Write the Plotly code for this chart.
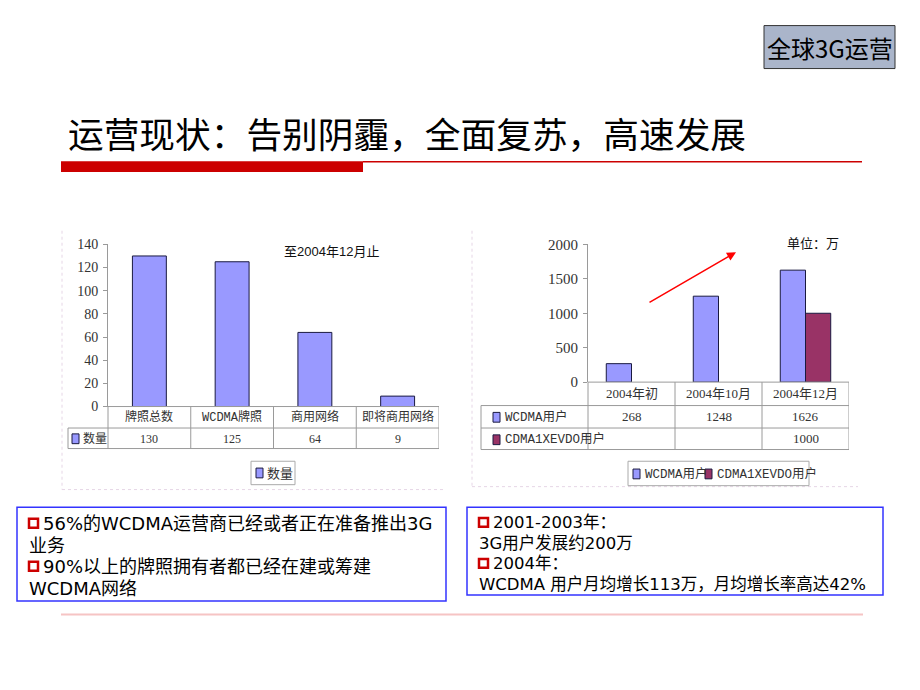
import plotly.graph_objects as go

# ---------------- data ----------------
left_categories = ["牌照总数", "WCDMA牌照", "商用网络", "即将商用网络"]
left_values = [130, 125, 64, 9]
left_series = "数量"

right_categories = ["2004年初", "2004年10月", "2004年12月"]
wcdma_users = [268, 1248, 1626]
evdo_users = [None, None, 1000]
right_series = ["WCDMA用户", "CDMA1XEVDO用户"]

title_text = "运营现状：告别阴霾，全面复苏，高速发展"
badge_text = "全球3G运营"
left_note = "至2004年12月止"
right_note = "单位：万"
left_box_lines = [(True, "56%的WCDMA运营商已经或者正在准备推出3G"), (False, "业务"),
                  (True, "90%以上的牌照拥有者都已经在建或筹建"), (False, "WCDMA网络")]
right_box_lines = [(True, "2001-2003年："), (False, "3G用户发展约200万"),
                   (True, "2004年："), (False, "WCDMA 用户月均增长113万，月均增长率高达42%")]

# ---------------- helpers ----------------
W, H = 920, 690
def px(x): return x / W
def py(y): return 1 - y / H

BLUE = "#9999FF"
PLUM = "#993366"
OUT = "#1a1a40"
GRID = "#9a9a9a"
SERIF = "Liberation Serif, Noto Sans CJK SC"
NARROW = "Liberation Sans Narrow, Liberation Mono, Noto Sans CJK SC"
SANS = "DejaVu Sans, Noto Sans CJK SC"

fig = go.Figure()
fig.add_trace(go.Bar(x=left_categories, y=left_values, name=left_series,
                     marker=dict(color=BLUE, line=dict(color=OUT, width=1)),
                     xaxis="x", yaxis="y", showlegend=False))
fig.add_trace(go.Bar(x=right_categories, y=wcdma_users, name=right_series[0],
                     marker=dict(color=BLUE, line=dict(color=OUT, width=1)),
                     xaxis="x2", yaxis="y2", showlegend=False))
fig.add_trace(go.Bar(x=right_categories, y=evdo_users, name=right_series[1],
                     marker=dict(color=PLUM, line=dict(color=OUT, width=1)),
                     xaxis="x2", yaxis="y2", showlegend=False))

shapes = []
ann = []

def hline(x0, x1, y, color=GRID, width=1, dash="solid", xref="paper"):
    shapes.append(dict(type="line", xref=xref, yref="paper",
                       x0=x0, x1=x1, y0=py(y), y1=py(y),
                       line=dict(color=color, width=width, dash=dash)))

def vline(x, y0, y1, color=GRID, width=1, xref="paper", dash="solid"):
    shapes.append(dict(type="line", xref=xref, yref="paper",
                       x0=x, x1=x, y0=py(y0), y1=py(y1),
                       line=dict(color=color, width=width, dash=dash)))

def rect(x0, y0, x1, y1, fill=None, color=GRID, width=1):
    shapes.append(dict(type="rect", xref="paper", yref="paper",
                       x0=px(x0), x1=px(x1), y0=py(y1), y1=py(y0),
                       fillcolor=fill if fill else "rgba(0,0,0,0)",
                       line=dict(color=color, width=width)))

def text(x, y, s, size=14, color="#333", family=SERIF, xanchor="center", xref="paper"):
    ann.append(dict(x=x, y=py(y), xref=xref, yref="paper", text=s, showarrow=False,
                    xanchor=xanchor, yanchor="middle",
                    font=dict(size=size, color=color, family=family)))

# ---------- title & decorations ----------
text(px(66), 127, title_text, size=35.7, color="#000", family="Noto Sans CJK SC", xanchor="left")
rect(61, 157, 363, 168, fill="#CC0000", color="#CC0000", width=0)
hline(px(363), px(862), 157.5, color="#CC0000", width=1.5)

rect(764, 18, 895, 62, fill="#AAB5CA", color="#333", width=1)
text(px(829.5), 40, badge_text, size=24, color="#000", family="Noto Sans CJK SC")

# chart frames (faint dotted)
vline(px(62), 228, 493, color="#E6D6E6", dash="dot")
hline(px(62), px(446), 493, color="#E6D6E6", dash="dot")
vline(px(472), 228, 490, color="#E6D6E6", dash="dot")
hline(px(472), px(858), 490, color="#E6D6E6", dash="dot")

# ---------- left table ----------
nL = len(left_categories)
hline(px(108), px(439), 408)
hline(px(68), px(439), 430)
hline(px(68), px(439), 451)
vline(px(68), 430, 451)
vline(px(108), 408, 451)
for i in range(nL):
    vline(i + 0.5, 408, 451, xref="x")
    text(i, 419, left_categories[i], size=12, xref="x", family=NARROW)
    text(i, 441, str(left_values[i]), size=12, xref="x")
rect(72, 436, 79, 446, fill=BLUE, color=OUT)
text(px(81), 441, left_series, size=12, xanchor="left")
text(px(331), 249, left_note, size=13, color="#111", family="Liberation Sans, Noto Sans CJK SC")

# left legend
rect(251, 464, 295, 488, color="#aaa")
rect(256, 471, 263, 481, fill=BLUE, color=OUT)
text(px(265), 476.5, left_series, size=13, xanchor="left")

# ---------- right table ----------
nR = len(right_categories)
hline(px(588), px(849), 383)
hline(px(481), px(849), 407)
hline(px(481), px(849), 430)
hline(px(481), px(849), 452)
vline(px(481), 407, 452)
vline(px(588), 383, 452)
for i in range(nR):
    vline(i + 0.5, 383, 452, xref="x2")
    text(i, 395, right_categories[i], size=13, xref="x2")
    text(i, 418.5, "" if wcdma_users[i] is None else str(wcdma_users[i]), size=13, xref="x2")
    text(i, 441, "" if evdo_users[i] is None else str(evdo_users[i]), size=13, xref="x2")
rect(493, 414, 500, 424, fill=BLUE, color=OUT)
text(px(503), 418.5, right_series[0], size=12.5, xanchor="left", family=NARROW)
rect(493, 437, 500, 447, fill=PLUM, color=OUT)
text(px(503), 441, right_series[1], size=12.5, xanchor="left", family=NARROW)
text(px(813), 241, right_note, size=13, color="#111")

# right legend
rect(628, 464, 809, 489, color="#aaa")
rect(633, 472, 640, 482, fill=BLUE, color=OUT)
text(px(643), 477, right_series[0], size=12.5, xanchor="left", family=NARROW)
rect(705, 472, 712, 482, fill=PLUM, color=OUT)
text(px(715), 477, right_series[1], size=12.5, xanchor="left", family=NARROW)

# red arrow (tail offset in pixels)
ann.append(dict(x=px(736), y=py(250), ax=648 - 736, ay=301 - 250,
                xref="paper", yref="paper",
                text="", showarrow=True, arrowhead=2, arrowsize=1.2,
                arrowwidth=1.5, arrowcolor="#FF0000"))

# ---------- bottom boxes ----------
rect(17, 511, 446, 607, color="#3333FF", width=1.5)
rect(467, 511, 883, 601, color="#3333FF", width=1.5)
hline(px(61), px(863), 621, color="#F6C4C4", width=2)

def box_lines(x0, ys, lines, size):
    for y, (bullet, s) in zip(ys, lines):
        if bullet:
            rect(x0 + 2, y - 5, x0 + 11, y + 4, color="#CC0000", width=2.5)
            text(px(x0 + 14), y, s, size=size, color="#000", family=SANS, xanchor="left")
        else:
            text(px(x0), y, s, size=size, color="#000", family=SANS, xanchor="left")

box_lines(27, [528, 550, 572, 594], left_box_lines, 18)
box_lines(477, [527, 548, 569, 590], right_box_lines, 16.5)

fig.update_layout(
    width=W, height=H, margin=dict(l=0, r=0, t=0, b=0),
    paper_bgcolor="white", plot_bgcolor="rgba(0,0,0,0)",
    barmode="group", showlegend=False,
    xaxis=dict(domain=[px(108), px(439)], range=[-0.5, nL - 0.5], showticklabels=False,
               showgrid=False, zeroline=False, showline=False, ticks=""),
    yaxis=dict(domain=[py(408), py(242)], range=[0, 140], dtick=20, showgrid=False,
               zeroline=False, showline=True, linecolor=GRID, ticks="outside", ticklen=4,
               tickcolor=GRID, tickfont=dict(size=14, color="#333", family="Liberation Serif"),
               ticklabelstandoff=2),
    xaxis2=dict(domain=[px(588), px(849)], range=[-0.5, nR - 0.5], showticklabels=False,
                showgrid=False, zeroline=False, showline=False, ticks="", anchor="y2"),
    yaxis2=dict(domain=[py(383), py(242)], range=[0, 2000], dtick=500, showgrid=False,
                zeroline=False, showline=True, linecolor=GRID, ticks="outside", ticklen=4,
                tickcolor=GRID, tickfont=dict(size=15, color="#333", family="Liberation Serif"),
                anchor="x2", ticklabelstandoff=2),
    shapes=shapes, annotations=ann,
)
fig.data[0].update(width=0.41)
fig.data[1].update(width=0.29, offset=-0.29)
fig.data[2].update(width=0.29, offset=0.0)

fig.write_html("out.html")
